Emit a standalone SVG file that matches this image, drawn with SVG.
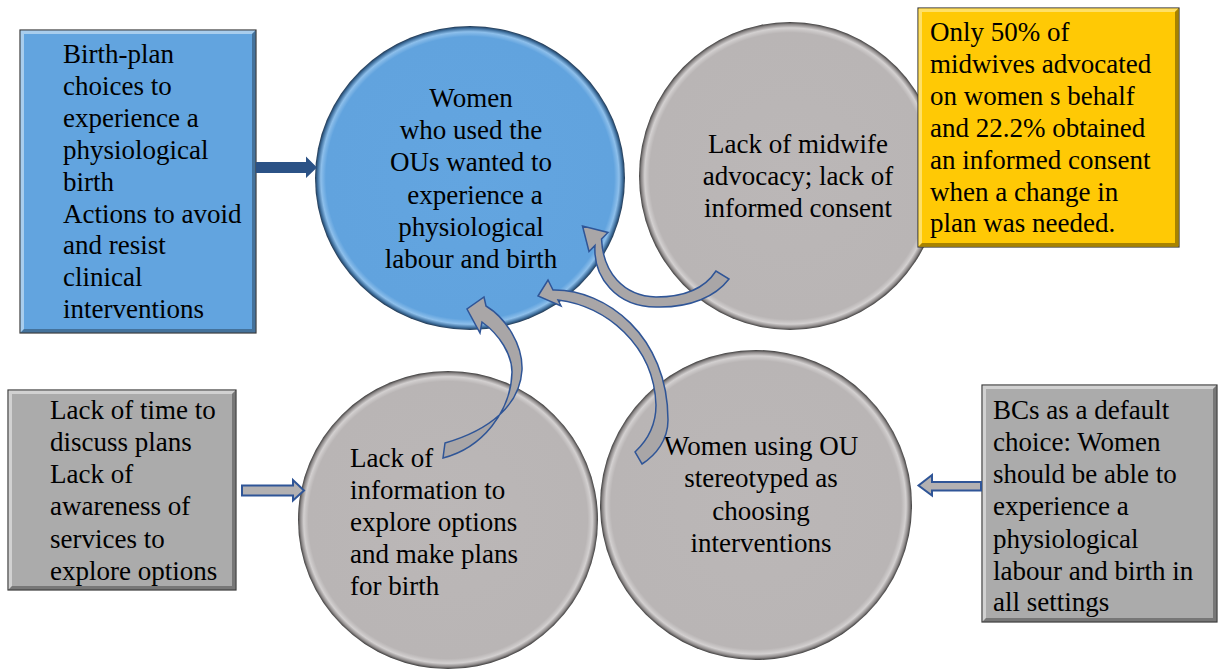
<svg xmlns="http://www.w3.org/2000/svg" width="1219" height="670" viewBox="0 0 1219 670" font-family="'Liberation Serif', 'Times New Roman', serif">
  <defs>
    <!-- soft bevelled edge for the round nodes -->
    <radialGradient id="grayDisc" cx="0.5" cy="0.5" r="0.5">
      <stop offset="0" stop-color="#BBB7B7"/>
      <stop offset="0.93" stop-color="#B9B5B5"/>
      <stop offset="0.962" stop-color="#D3D0D0"/>
      <stop offset="0.985" stop-color="#8C8888"/>
      <stop offset="1" stop-color="#3C3B3B"/>
    </radialGradient>
    <radialGradient id="blueDisc" cx="0.5" cy="0.5" r="0.5">
      <stop offset="0" stop-color="#63A5E0"/>
      <stop offset="0.93" stop-color="#61A3DE"/>
      <stop offset="0.962" stop-color="#8DBFEB"/>
      <stop offset="0.985" stop-color="#3E6E9C"/>
      <stop offset="1" stop-color="#1F3650"/>
    </radialGradient>
  </defs>
  <style>
    text { font-family: "Liberation Serif", "Times New Roman", serif; font-size: 27px; fill: #000; }
    .mid { text-anchor: middle; }
    .edge { stroke: #3A3A3A; stroke-width: 1.2; }
    .hi { fill: #FFFFFF; opacity: 0.45; }
    .lo { fill: #000000; opacity: 0.3; }
    .curve { fill: #A9A6A7; stroke: #2F5597; stroke-width: 1.5; stroke-linejoin: miter; }
    .hollow { fill: #B3B1B2; stroke: #2F5597; stroke-width: 2; }
  </style>

  <rect width="1219" height="670" fill="#FFFFFF"/>

  <!-- left blue box -->
  <g id="birth-plan-box">
    <rect x="20" y="30" width="236" height="303" fill="#62A4DF" class="edge"/>
    <polygon class="hi" points="20.6,30.6 255.4,30.6 252,34 24,34 24,329 20.6,332.4"/>
    <polygon class="lo" points="255.4,30.6 255.4,332.4 20.6,332.4 24,329 252,329 252,34"/>
    <text x="63" y="63">Birth-plan</text>
    <text x="63" y="94.9">choices to</text>
    <text x="63" y="126.8">experience a</text>
    <text x="63" y="158.7">physiological</text>
    <text x="63" y="190.6">birth</text>
    <text x="63" y="222.5">Actions to avoid</text>
    <text x="63" y="254.4">and resist</text>
    <text x="63" y="286.3">clinical</text>
    <text x="63" y="318.2">interventions</text>
  </g>

  <!-- central blue circle -->
  <g id="women-ou">
    <ellipse cx="470" cy="178" rx="155" ry="152" fill="url(#blueDisc)"/>
    <text class="mid" x="471" y="107">Women</text>
    <text class="mid" x="471" y="139">who used the</text>
    <text class="mid" x="471" y="171">OUs wanted to</text>
    <text class="mid" x="475" y="203.5">experience a</text>
    <text class="mid" x="471" y="236">physiological</text>
    <text class="mid" x="471" y="268">labour and birth</text>
  </g>

  <!-- top right circle -->
  <g id="midwife-advocacy">
    <ellipse cx="790" cy="176" rx="151" ry="154" fill="url(#grayDisc)"/>
    <text class="mid" x="798" y="153">Lack of midwife</text>
    <text class="mid" x="798" y="185">advocacy; lack of</text>
    <text class="mid" x="798" y="217">informed consent</text>
  </g>

  <!-- yellow statistics box -->
  <g id="advocacy-stats">
    <rect x="918" y="8" width="261" height="239" fill="#FFC905" class="edge"/>
    <polygon points="918.6,8.6 1178.4,8.6 1175,12 922,12 922,243 918.6,246.4" fill="#FFE066"/>
    <polygon points="1178.4,8.6 1178.4,246.4 918.6,246.4 922,243 1175,243 1175,12" fill="#A88300"/>
    <text x="930" y="41">Only 50% of</text>
    <text x="930" y="73">midwives advocated</text>
    <text x="930" y="105">on women s behalf</text>
    <text x="930" y="137">and 22.2% obtained</text>
    <text x="930" y="169">an informed consent</text>
    <text x="930" y="201">when a change in</text>
    <text x="930" y="232">plan was needed.</text>
  </g>

  <!-- lower left gray box -->
  <g id="time-awareness">
    <rect x="8" y="390" width="228" height="200" fill="#ABABAB" class="edge"/>
    <polygon class="hi" points="8.6,390.6 235.4,390.6 232,394 12,394 12,586 8.6,589.4"/>
    <polygon class="lo" points="235.4,390.6 235.4,589.4 8.6,589.4 12,586 232,586 232,394"/>
    <text x="50" y="419">Lack of time to</text>
    <text x="50" y="451">discuss plans</text>
    <text x="50" y="483">Lack of</text>
    <text x="50" y="515">awareness of</text>
    <text x="50" y="548">services to</text>
    <text x="50" y="580">explore options</text>
  </g>

  <!-- lower left circle -->
  <g id="lack-of-information">
    <ellipse cx="448" cy="520" rx="150" ry="149" fill="url(#grayDisc)"/>
    <text x="350" y="467">Lack of</text>
    <text x="350" y="499">information to</text>
    <text x="350" y="531">explore options</text>
    <text x="350" y="563">and make plans</text>
    <text x="350" y="595">for birth</text>
  </g>

  <!-- lower right circle -->
  <g id="stereotyped">
    <ellipse cx="756" cy="505" rx="156" ry="155" fill="url(#grayDisc)"/>
    <text class="mid" x="761" y="455">Women using OU</text>
    <text class="mid" x="761" y="487">stereotyped as</text>
    <text class="mid" x="761" y="520">choosing</text>
    <text class="mid" x="761" y="552">interventions</text>
  </g>

  <!-- lower right gray box -->
  <g id="bc-default">
    <rect x="982" y="385" width="235" height="237" fill="#ABABAB" class="edge"/>
    <polygon class="hi" points="982.6,385.6 1216.4,385.6 1213,389 986,389 986,618 982.6,621.4"/>
    <polygon class="lo" points="1216.4,385.6 1216.4,621.4 982.6,621.4 986,618 1213,618 1213,389"/>
    <text x="993" y="419">BCs as a default</text>
    <text x="993" y="451">choice: Women</text>
    <text x="993" y="483">should be able to</text>
    <text x="993" y="515">experience a</text>
    <text x="993" y="548">physiological</text>
    <text x="993" y="580">labour and birth in</text>
    <text x="993" y="611">all settings</text>
  </g>

  <!-- connectors -->
  <g id="connectors">
    <!-- birth-plan box into central circle -->
    <polygon fill="#2B5286" points="256,162 306,162 306,156.5 317,167.5 306,178 306,173 256,173"/>
    <!-- hollow block arrows -->
    <polygon class="hollow" points="242,485.5 293,485.5 293,480 304,490.5 293,500.5 293,495.5 242,495.5"/>
    <polygon class="hollow" points="981,482 932,482 932,475 918.5,485.5 932,495.5 932,490.5 981,490.5"/>
    <!-- curved arrows feeding the central circle -->
    <path class="curve" d="M716 271 C705 288 686 297 656 297 C623 296 603 272 601.5 239 L608 232.5 L582.5 226 L589 251.5 L595 245.5 C593 277 616 307 656 307 C691 308 716 296 729 279 Z"/>
    <path class="curve" d="M635 452 C650 438 656 421 656 405 C654 345 606 306 558 300 L561 306 L538 296 L548 280 L553 290 C606 289 668 336 668 420 C668 440 656 455 642 464 Z"/>
    <path class="curve" d="M445 443 C490 430 520 405 522 370 C523 345 506 318 486 306 L484 297 L467 309 L480 333 L482 322 C500 335 512 355 512 372 C511 412 482 448 443 458 Z"/>
  </g>
</svg>
